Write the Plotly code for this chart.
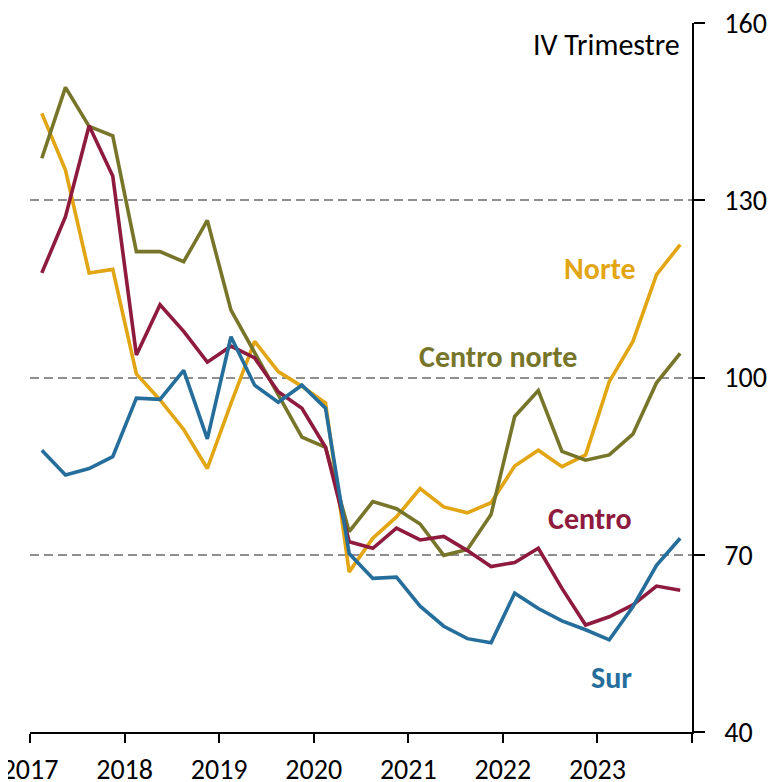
import plotly.graph_objects as go

years = ["2017", "2018", "2019", "2020", "2021", "2022", "2023"]
quarters = list(range(28))  # 2017T1 ... 2023T4

norte = [144.7, 135.1, 117.7, 118.3, 100.6, 96.2, 91.2, 84.6, 95.6, 106.1,
         101.0, 98.5, 95.7, 67.1, 72.8, 76.4, 81.2, 78.1, 77.1, 78.8,
         85.0, 87.7, 84.9, 86.9, 99.3, 106.1, 117.4, 122.5]
centro_norte = [137.1, 149.1, 142.5, 140.9, 121.3, 121.3, 119.6, 126.6, 111.4, 104.2,
                97.0, 89.9, 88.2, 73.9, 79.0, 77.8, 75.2, 69.9, 70.9, 76.8,
                93.4, 97.8, 87.5, 86.0, 86.9, 90.4, 99.1, 104.1]
centro = [117.7, 127.2, 142.6, 134.1, 103.8, 112.3, 107.8, 102.6, 105.3, 103.3,
          97.6, 94.8, 88.2, 72.2, 71.1, 74.5, 72.5, 73.1, 70.7, 68.0,
          68.7, 71.1, 64.3, 58.1, 59.5, 61.5, 64.7, 64.0]
sur = [87.7, 83.5, 84.6, 86.6, 96.5, 96.3, 101.2, 89.6, 106.9, 98.7,
       95.8, 98.7, 94.8, 70.2, 66.0, 66.2, 61.3, 57.9, 55.8, 55.1,
       63.5, 60.9, 58.8, 57.3, 55.6, 61.2, 68.2, 72.8]

series = [
    ("Norte", norte, "#E2A513"),
    ("Centro norte", centro_norte, "#77752A"),
    ("Centro", centro, "#8E1B3E"),
    ("Sur", sur, "#256E9B"),
]

FONT = "Carlito, Lato, 'Liberation Sans', sans-serif"

fig = go.Figure()
for name, vals, col in series:
    fig.add_trace(go.Scatter(x=quarters, y=vals, mode="lines", name=name,
                             line=dict(color=col, width=3.6), showlegend=False))

# labels
labels = [
    ("Norte", 23.6, 118.5, "#E2A513"),
    ("Centro norte", 19.3, 103.6, "#77752A"),
    ("Centro", 23.2, 76.1, "#8E1B3E"),
    ("Sur", 24.1, 49.3, "#256E9B"),
]
for txt, xx, yy, col in labels:
    fig.add_annotation(x=xx, y=yy, text=f"<b>{txt}</b>", showarrow=False,
                       font=dict(family=FONT, size=30, color=col),
                       xanchor="center", yanchor="middle")

fig.add_annotation(x=27.08, y=156.3, text="IV Trimestre", showarrow=False,
                   font=dict(family=FONT, size=30, color="black"),
                   xanchor="right", yanchor="middle")

tickvals = [i * 4 - 0.5 for i in range(8)]
ticktext = years + [""]

fig.update_layout(
    width=781, height=782,
    margin=dict(l=22, r=97, t=15, b=58),
    plot_bgcolor="white", paper_bgcolor="white",
    font=dict(family=FONT, size=28, color="black"),
    xaxis=dict(range=[-0.5, 27.5], tickvals=tickvals, ticktext=ticktext,
               showgrid=False, zeroline=False, showline=True, linecolor="black",
               linewidth=1.5, ticks="outside", ticklen=9, tickwidth=1.5,
               tickcolor="black", tickfont=dict(size=28), automargin=False,
               ticklabelstandoff=3, ticklabeloverflow="allow"),
    yaxis=dict(range=[40, 160], side="right", tickvals=[40, 70, 100, 130, 160],
               showgrid=True, gridcolor="#8f8f8f", gridwidth=1.5,
               griddash="9px,5px", zeroline=False, showline=True,
               linecolor="black", linewidth=1.5, ticks="outside", ticklen=11,
               tickwidth=1.5, tickcolor="black", tickfont=dict(size=28),
               ticklabelstandoff=14, automargin=False, ticklabeloverflow="allow"),
)

fig.write_html("out.html")
